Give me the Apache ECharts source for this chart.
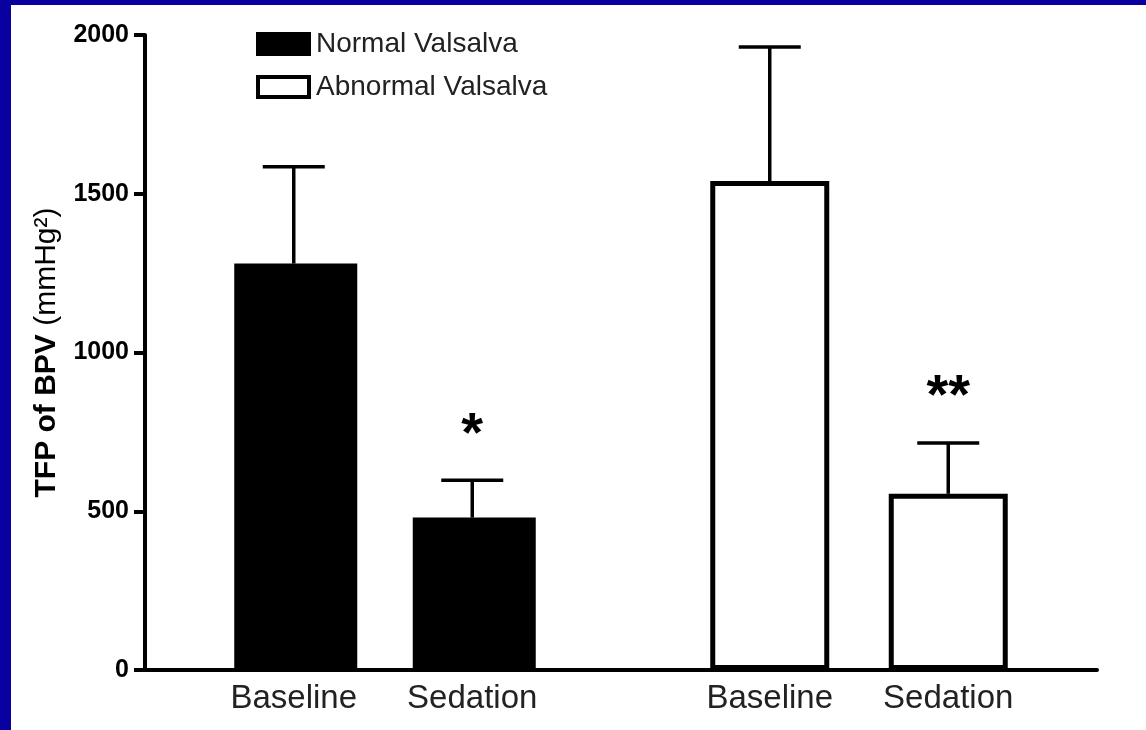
<!DOCTYPE html>
<html>
<head>
<meta charset="utf-8">
<script src="https://cdn.jsdelivr.net/npm/echarts@6/dist/echarts.min.js"></script>
<style>
  html, body { margin: 0; padding: 0; background: #fff; }
  #chart { width: 1146px; height: 730px; }
</style>
</head>
<body>
<div id="chart"></div>
<script>
// Categories and groups
const categories = ['Baseline', 'Sedation', 'Baseline', 'Sedation'];
const groups = ['Normal Valsalva', 'Abnormal Valsalva'];

// Mean TFP of BPV (mmHg^2) and upper end of the error bar, per group
const normalMean = [1280, 480];
const normalUpper = [1585, 598];
const abnormalMean = [1540, 555];
const abnormalUpper = [1962, 715];

// Significance marks above each bar
const significance = ['', '*', '', '**'];

// Y-axis ticks
const yTicks = [0, 500, 1000, 1500, 2000];

// Layout: slot centres along the hidden value x-axis
const slotX = [2.5, 5.5, 10.5, 13.5];

const FONT = "'Liberation Sans', Arial, Helvetica, sans-serif";

const normalData = normalMean.map((v, i) => [slotX[i], v]);
const abnormalData = abnormalMean.map((v, i) => [slotX[i + 2], v]);
const errData = normalMean.map((v, i) => [slotX[i], v, normalUpper[i]])
  .concat(abnormalMean.map((v, i) => [slotX[i + 2], v, abnormalUpper[i]]));

const chart = echarts.init(document.getElementById('chart'), null, { renderer: 'canvas' });

chart.setOption({
  animation: false,
  backgroundColor: '#fff',
  graphic: [
    { type: 'rect', left: 0, top: 0, shape: { width: 1146, height: 5 }, style: { fill: '#0A00A0' }, z: 100 },
    { type: 'rect', left: 0, top: 0, shape: { width: 11, height: 730 }, style: { fill: '#0A00A0' }, z: 100 }
  ],
  grid: { left: 145, right: 49, top: 35, bottom: 60, containLabel: false },
  legend: {
    orient: 'vertical',
    left: 251,
    top: 25,
    itemWidth: 51,
    itemHeight: 20,
    itemGap: 15,
    icon: 'rect',
    selectedMode: false,
    textStyle: { fontFamily: FONT, fontSize: 28, color: '#222', padding: [0, 0, 0, 2] },
    data: [
      { name: groups[0], itemStyle: { color: '#000', borderColor: '#000', borderWidth: 4 } },
      { name: groups[1], itemStyle: { color: '#fff', borderColor: '#000', borderWidth: 4 } }
    ]
  },
  xAxis: {
    type: 'value',
    min: 0,
    max: 16,
    splitLine: { show: false },
    axisTick: { show: false },
    axisLine: { show: true, lineStyle: { color: '#000', width: 4 } },
    axisLabel: {
      customValues: slotX,
      formatter: v => {
        const i = slotX.indexOf(v);
        return i >= 0 ? categories[i] : '';
      },
      fontFamily: FONT,
      fontSize: 33,
      color: '#222',
      margin: 12
    }
  },
  yAxis: {
    type: 'value',
    min: yTicks[0],
    max: yTicks[yTicks.length - 1],
    interval: 500,
    splitLine: { show: false },
    axisLine: { show: true, lineStyle: { color: '#000', width: 4 } },
    axisTick: { show: true, length: 11, lineStyle: { color: '#000', width: 4 } },
    axisLabel: {
      formatter: v => String(v),
      fontFamily: FONT,
      fontSize: 25,
      fontWeight: 'bold',
      color: '#000',
      margin: 16
    },
    name: '{b|TFP of BPV }{n|(mmHg²)}',
    nameLocation: 'middle',
    nameGap: 83,
    nameRotate: 90,
    nameTextStyle: {
      rich: {
        b: { fontFamily: FONT, fontSize: 30, fontWeight: 'bold', color: '#000' },
        n: { fontFamily: FONT, fontSize: 30, fontWeight: 'normal', color: '#000' }
      }
    }
  },
  series: [
    {
      name: groups[0],
      type: 'bar',
      data: normalData,
      barWidth: 123,
      barGap: '-100%',
      itemStyle: { color: '#000' },
      emphasis: { disabled: true }
    },
    {
      name: groups[1],
      type: 'bar',
      data: abnormalData,
      barWidth: 119,
      barGap: '-100%',
      itemStyle: { color: '#fff', borderColor: '#000', borderWidth: 5 },
      emphasis: { disabled: true }
    },
    {
      name: 'error',
      type: 'custom',
      z: 5,
      silent: true,
      data: errData,
      encode: { x: 0, y: [1, 2] },
      renderItem: (params, api) => {
        const x = api.value(0);
        const p0 = api.coord([x, api.value(1)]);
        const p1 = api.coord([x, api.value(2)]);
        const half = 31;
        const children = [
          { type: 'line', shape: { x1: p0[0], y1: p0[1], x2: p1[0], y2: p1[1] },
            style: { stroke: '#000', lineWidth: 3.5 } },
          { type: 'line', shape: { x1: p1[0] - half, y1: p1[1], x2: p1[0] + half, y2: p1[1] },
            style: { stroke: '#000', lineWidth: 3.5 } }
        ];
        const mark = significance[params.dataIndex];
        if (mark) {
          children.push({
            type: 'text',
            style: {
              text: mark, x: p1[0], y: p1[1] - 45,
              align: 'center', verticalAlign: 'middle',
              font: 'bold 56px ' + FONT, fill: '#000'
            }
          });
        }
        return { type: 'group', children };
      }
    }
  ]
});
</script>
</body>
</html>
